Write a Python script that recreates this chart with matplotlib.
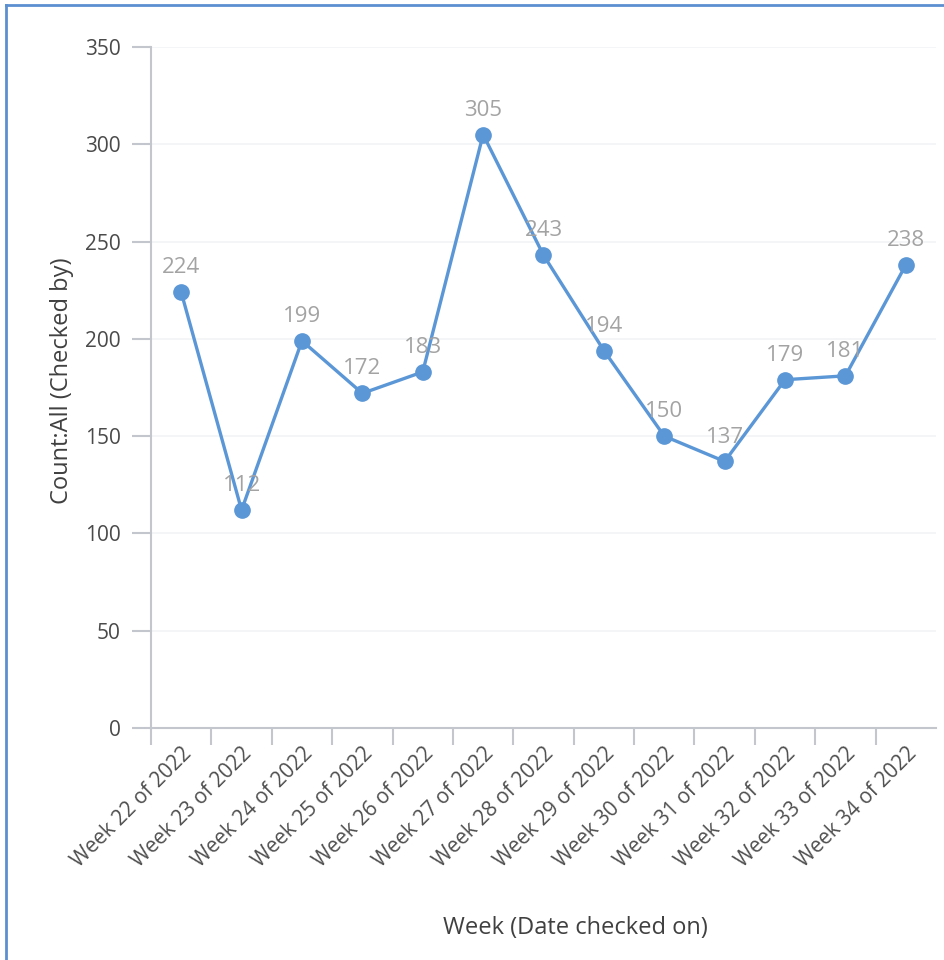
import matplotlib
matplotlib.use('Agg')
import matplotlib.pyplot as plt
from matplotlib.lines import Line2D

# weekly counts
weeks = ['Week 22 of 2022', 'Week 23 of 2022', 'Week 24 of 2022', 'Week 25 of 2022',
         'Week 26 of 2022', 'Week 27 of 2022', 'Week 28 of 2022', 'Week 29 of 2022',
         'Week 30 of 2022', 'Week 31 of 2022', 'Week 32 of 2022', 'Week 33 of 2022',
         'Week 34 of 2022']
counts = [224, 112, 199, 172, 183, 305, 243, 194, 150, 137, 179, 181, 238]
yticks = [0, 50, 100, 150, 200, 250, 300, 350]

plt.rcParams['font.family'] = ['Open Sans', 'DejaVu Sans']

line_col = '#5b97d6'
axis_col = '#c3c6cc'

fig = plt.figure(figsize=(9.45, 9.6), dpi=100)
ax = fig.add_axes([151 / 945, 1 - 728 / 960, 785 / 945, 681 / 960])

x = [i + 0.5 for i in range(len(weeks))]
ax.plot(x, counts, color=line_col, lw=2.4, marker='o', ms=11, zorder=3, clip_on=False)
for xi, v in zip(x, counts):
    ax.annotate(str(v), (xi, v), xytext=(0, 10), textcoords='offset points',
                ha='center', va='bottom', fontsize=16, color='#a3a3a3')

ax.set_xlim(0, len(weeks))
ax.set_ylim(0, 350)
ax.set_yticks(yticks)
ax.set_xticks(range(len(weeks)))
ax.set_xticks(x, minor=True)
ax.set_xticklabels([])
ax.set_xticklabels(weeks, minor=True, rotation=45, ha='right', rotation_mode='anchor')
ax.tick_params(axis='x', which='minor', length=0, pad=11, labelsize=15, labelcolor='#4f4f4f')
ax.tick_params(axis='x', which='major', length=12, width=1.5, color=axis_col)
ax.tick_params(axis='y', length=14, width=1.5, color=axis_col, pad=8,
               labelsize=15, labelcolor='#4a4a4a')

ax.grid(axis='y', color='#f2f3f5', lw=1.2)
ax.set_axisbelow(True)
for s in ['top', 'right']:
    ax.spines[s].set_visible(False)
for s in ['left', 'bottom']:
    ax.spines[s].set_color(axis_col)
    ax.spines[s].set_linewidth(1.5)

fig.text(62 / 945, 1 - 381 / 960, 'Count:All (Checked by)', rotation=90,
         ha='center', va='center', fontsize=17, color='#404040')
fig.text(575 / 945, 1 - 928 / 960, 'Week (Date checked on)',
         ha='center', va='center', fontsize=17, color='#404040')

# window frame
fig.add_artist(Line2D([6 / 945, 6 / 945], [0, 1 - 5 / 960], transform=fig.transFigure,
                      color='#5b8fd0', lw=2))
fig.add_artist(Line2D([6 / 945, 1], [1 - 5 / 960, 1 - 5 / 960], transform=fig.transFigure,
                      color='#5b8fd0', lw=2))

fig.savefig('out.png', dpi=100)
